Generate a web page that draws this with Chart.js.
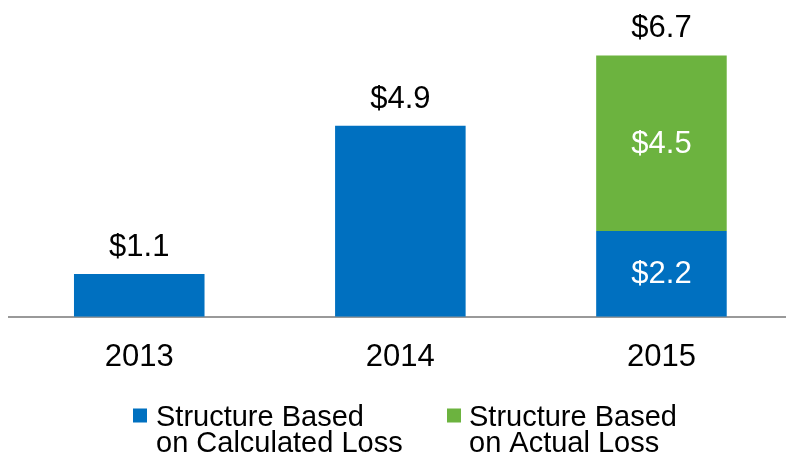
<!DOCTYPE html>
<html>
<head>
<meta charset="utf-8">
<script src="https://cdn.jsdelivr.net/npm/chart.js@4/dist/chart.umd.min.js"></script>
<style>
  html, body { margin: 0; padding: 0; background: #fff; }
  #wrap { width: 786px; height: 458px; overflow: hidden; position: relative; }
  canvas { display: block; }
</style>
</head>
<body>
<div id="wrap"><canvas id="c" width="800" height="458"></canvas></div>
<script>
const categories = ['2013', '2014', '2015'];
const calculatedLoss = [1.1, 4.9, 2.2];
const actualLoss = [null, null, 4.5];
const totals = [1.1, 4.9, 6.7];
const seriesNames = [['Structure Based', 'on Calculated Loss'], ['Structure Based', 'on Actual Loss']];
const seriesColors = ['#0070C0', '#6CB33F'];

const FONT = '"Liberation Sans", Arial, sans-serif';
const fmt = v => '$' + v.toFixed(1);

const labelPlugin = {
  id: 'labels',
  afterDatasetsDraw(chart) {
    const ctx = chart.ctx;
    ctx.save();
    ctx.font = '31px ' + FONT;
    ctx.textAlign = 'center';
    categories.forEach((c, i) => {
      const segs = chart.data.datasets.map((ds, di) => ({ v: ds.data[i], el: chart.getDatasetMeta(di).data[i] }))
        .filter(s => s.v != null && s.v > 0);
      if (segs.length > 1) {
        segs.forEach(s => {
          const el = s.el;
          ctx.fillStyle = '#ffffff';
          ctx.textBaseline = 'middle';
          ctx.fillText(fmt(s.v), el.x, (el.y + el.base) / 2 + 1);
        });
      }
      const yTop = chart.scales.y.getPixelForValue(totals[i]);
      const x = chart.scales.x.getPixelForValue(i);
      ctx.fillStyle = '#000000';
      ctx.textBaseline = 'alphabetic';
      ctx.fillText(fmt(totals[i]), x, yTop - 18);
    });
    ctx.restore();
  }
};

const legendPlugin = {
  id: 'customLegend',
  afterDraw(chart) {
    const ctx = chart.ctx;
    ctx.save();
    ctx.font = '29px ' + FONT;
    ctx.textAlign = 'left';
    ctx.textBaseline = 'alphabetic';
    const items = [{ sx: 133, tx: 156 }, { sx: 447, tx: 469 }];
    items.forEach((it, i) => {
      ctx.fillStyle = seriesColors[i];
      ctx.fillRect(it.sx, 408.5, 14, 14);
      ctx.fillStyle = '#000000';
      seriesNames[i].forEach((line, li) => {
        ctx.fillText(line, it.tx, 426 + li * 26);
      });
    });
    ctx.restore();
  }
};

new Chart(document.getElementById('c'), {
  type: 'bar',
  data: {
    labels: categories,
    datasets: [
      { label: seriesNames[0].join(' '), data: calculatedLoss, backgroundColor: seriesColors[0], borderWidth: 0 },
      { label: seriesNames[1].join(' '), data: actualLoss, backgroundColor: seriesColors[1], borderWidth: 0 }
    ]
  },
  options: {
    responsive: false,
    devicePixelRatio: 1,
    animation: false,
    categoryPercentage: 1,
    barPercentage: 0.5,
    layout: { padding: { left: 8.7, right: 8, top: 4.7, bottom: 60 } },
    plugins: { legend: { display: false }, tooltip: { enabled: false } },
    scales: {
      x: {
        stacked: true,
        grid: { display: false, drawTicks: false },
        border: { display: true, color: '#999999', width: 2 },
        ticks: { color: '#000000', font: { family: FONT, size: 31 }, padding: 22 }
      },
      y: {
        stacked: true,
        display: false,
        min: 0,
        max: 8
      }
    }
  },
  plugins: [labelPlugin, legendPlugin]
});
</script>
</body>
</html>
